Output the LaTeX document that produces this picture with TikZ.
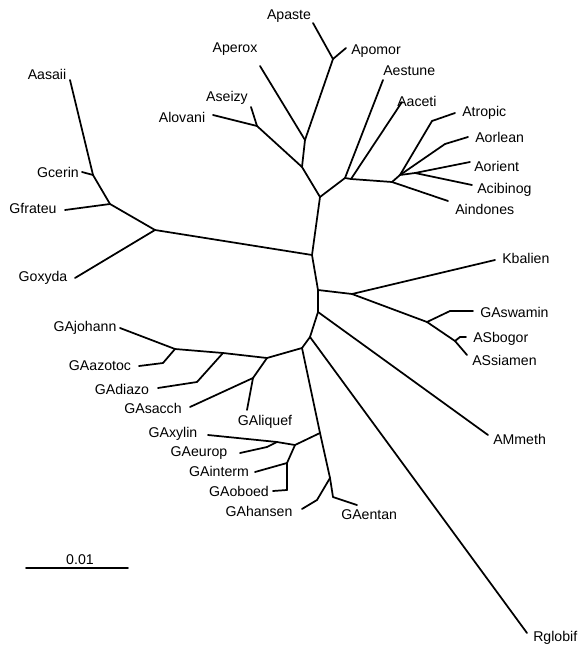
\documentclass[tikz,border=0pt]{standalone}
\usepackage{fontspec}
\setmainfont{Liberation Sans}
\usepackage{tikz}

\begin{document}
\begin{tikzpicture}[
x=0.75pt, y=-0.75pt,
taxon/.style={inner sep=0pt, font=\fontsize{10.6}{12}\selectfont},
rtaxon/.style={taxon, anchor=west},
every edge/.style={draw, line width=1.3pt, line cap=round},
]
\useasboundingbox (0,0) rectangle (584,656);

% backbone
\coordinate (c1) at (320,197);
\coordinate (c2) at (312,255);
\coordinate (c3) at (318,290);
\coordinate (c4) at (318,312);
\coordinate (c5) at (310,337);
\coordinate (c6) at (302,348);
\coordinate (s1) at (320,433);
\coordinate (s2) at (330,478);

% G clade
\coordinate (g0) at (155,230);
\coordinate (g1) at (110,204);
\coordinate (g2) at (93,175);
\coordinate (tAasaii) at (70,80);
\coordinate (tGcerin) at (82,172);
\coordinate (tGfrateu) at (65,210);
\coordinate (tGoxyda) at (75,278);

% top clade
\coordinate (a1) at (302,167);
\coordinate (a2) at (305,140);
\coordinate (a3) at (333,59);
\coordinate (a4) at (257,126);
\coordinate (tApaste) at (313,23);
\coordinate (tApomor) at (346,48);
\coordinate (tAperox) at (260,66);
\coordinate (tAseizy) at (251,107);
\coordinate (tAlovani) at (213,115);

% A clade right
\coordinate (b1) at (345,178);
\coordinate (b2) at (351,179);
\coordinate (b3) at (392,182);
\coordinate (b4) at (400,175);
\coordinate (b6) at (415,173);
\coordinate (tAestune) at (383,80);
\coordinate (tAaceti) at (402,102);
\coordinate (eAtropic) at (432,121);
\coordinate (tAtropic) at (455,113);
\coordinate (eAorlean) at (445,144);
\coordinate (tAorlean) at (468,137);
\coordinate (tAorient) at (470,162);
\coordinate (tAcibinog) at (472,185);
\coordinate (tAindones) at (448,201);

% K / AS clade
\coordinate (k1) at (352,294);
\coordinate (k2) at (427,322);
\coordinate (k3) at (455,341);
\coordinate (tKbalien) at (495,260);
\coordinate (eGAswamin) at (450,311);
\coordinate (tGAswamin) at (473,311);
\coordinate (eASbogor) at (460,337);
\coordinate (tASbogor) at (466,337);
\coordinate (tASsiamen) at (467,355);
\coordinate (tAMmeth) at (488,435);
\coordinate (tRglobif) at (527,633);

% GA clade upper
\coordinate (h0) at (267,358);
\coordinate (h1) at (253,378);
\coordinate (h2) at (223,353);
\coordinate (h3) at (175,349);
\coordinate (tGAjohann) at (120,328);
\coordinate (eGAazotoc) at (163,363);
\coordinate (tGAazotoc) at (139,366);
\coordinate (eGAdiazo) at (197,382);
\coordinate (tGAdiazo) at (158,388);
\coordinate (tGAsacch) at (190,407);
\coordinate (tGAliquef) at (247,410);

% GA clade lower
\coordinate (x0) at (295,445);
\coordinate (x1) at (277,442);
\coordinate (x2) at (287,463);
\coordinate (tGAxylin) at (208,435);
\coordinate (eGAeurop) at (267,447);
\coordinate (tGAeurop) at (240,453);
\coordinate (tGAinterm) at (255,472);
\coordinate (eGAoboed) at (287,490);
\coordinate (tGAoboed) at (273,491);
\coordinate (eGAentan) at (333,497);
\coordinate (tGAentan) at (357,505);
\coordinate (eGAhansen) at (317,500);
\coordinate (tGAhansen) at (302,509);

% scale bar
\coordinate (sb1) at (26,568);
\coordinate (sb2) at (128,568);

\node[taxon] (Aasaii) at (47,74) {Aasaii};
\node[taxon] (Gcerin) at (58,172) {Gcerin};
\node[taxon] (Gfrateu) at (33,208) {Gfrateu};
\node[taxon] (Goxyda) at (43,278) {Goxyda};
\node[taxon] (Apaste) at (289,16) {Apaste};
\node[taxon] (Aperox) at (235,49) {Aperox};
\node[rtaxon] (Apomor) at (351,51) {Apomor};
\node[rtaxon] (Aestune) at (383,71) {Aestune};
\node[rtaxon] (Aaceti) at (397,101) {Aaceti};
\node[taxon] (Aseizy) at (227,98) {Aseizy};
\node[taxon] (Alovani) at (182,117) {Alovani};
\node[rtaxon] (Atropic) at (462,113) {Atropic};
\node[rtaxon] (Aorlean) at (475,137) {Aorlean};
\node[rtaxon] (Aorient) at (474,166) {Aorient};
\node[rtaxon] (Acibinog) at (477,190) {Acibinog};
\node[rtaxon] (Aindones) at (455,209) {Aindones};
\node[rtaxon] (Kbalien) at (502,258) {Kbalien};
\node[rtaxon] (GAswamin) at (480,312) {GAswamin};
\node[rtaxon] (ASbogor) at (473,339) {ASbogor};
\node[rtaxon] (ASsiamen) at (472,360) {ASsiamen};
\node[rtaxon] (AMmeth) at (493,439) {AMmeth};
\node[rtaxon] (Rglobif) at (533,638) {Rglobif};
\node[rtaxon] (GAentan) at (341,515) {GAentan};
\node[taxon] (GAjohann) at (85,328) {GAjohann};
\node[taxon] (GAazotoc) at (100,366) {GAazotoc};
\node[taxon] (GAdiazo) at (122,389) {GAdiazo};
\node[taxon] (GAsacch) at (153,408) {GAsacch};
\node[taxon] (GAliquef) at (265,422) {GAliquef};
\node[taxon] (GAxylin) at (173,434) {GAxylin};
\node[taxon] (GAeurop) at (199,453) {GAeurop};
\node[taxon] (GAinterm) at (219,471) {GAinterm};
\node[taxon] (GAoboed) at (239,491) {GAoboed};
\node[taxon] (GAhansen) at (259,511) {GAhansen};
\node[taxon] (scale) at (80,560) {0.01};

\path
(c1) edge (c2)
(c2) edge (c3)
(c3) edge (c4)
(c4) edge (c5)
(c5) edge (c6)
(c6) edge (s1)
(s1) edge (s2)
(c2) edge (g0)
(g0) edge (g1)
(g0) edge (tGoxyda)
(g1) edge (g2)
(g1) edge (tGfrateu)
(g2) edge (tAasaii)
(g2) edge (tGcerin)
(c1) edge (a1)
(a1) edge (a2)
(a1) edge (a4)
(a2) edge (a3)
(a2) edge (tAperox)
(a3) edge (tApaste)
(a3) edge (tApomor)
(a4) edge (tAseizy)
(a4) edge (tAlovani)
(c1) edge (b1)
(b1) edge (tAestune)
(b1) edge (b2)
(b2) edge (tAaceti)
(b2) edge (b3)
(b3) edge (tAindones)
(b3) edge (b4)
(b4) edge (eAtropic)
(eAtropic) edge (tAtropic)
(b4) edge (eAorlean)
(eAorlean) edge (tAorlean)
(b4) edge (b6)
(b6) edge (tAorient)
(b6) edge (tAcibinog)
(c3) edge (k1)
(k1) edge (tKbalien)
(k1) edge (k2)
(k2) edge (eGAswamin)
(eGAswamin) edge (tGAswamin)
(k2) edge (k3)
(k3) edge (eASbogor)
(eASbogor) edge (tASbogor)
(k3) edge (tASsiamen)
(c4) edge (tAMmeth)
(c5) edge (tRglobif)
(c6) edge (h0)
(h0) edge (h1)
(h0) edge (h2)
(h2) edge (h3)
(h2) edge (eGAdiazo)
(eGAdiazo) edge (tGAdiazo)
(h3) edge (tGAjohann)
(h3) edge (eGAazotoc)
(eGAazotoc) edge (tGAazotoc)
(h1) edge (tGAsacch)
(h1) edge (tGAliquef)
(s1) edge (x0)
(x0) edge (x1)
(x1) edge (tGAxylin)
(x1) edge (eGAeurop)
(eGAeurop) edge (tGAeurop)
(x0) edge (x2)
(x2) edge (tGAinterm)
(x2) edge (eGAoboed)
(eGAoboed) edge (tGAoboed)
(s2) edge (eGAentan)
(eGAentan) edge (tGAentan)
(s2) edge (eGAhansen)
(eGAhansen) edge (tGAhansen)
(sb1) edge (sb2)
;
\end{tikzpicture}
\end{document}
